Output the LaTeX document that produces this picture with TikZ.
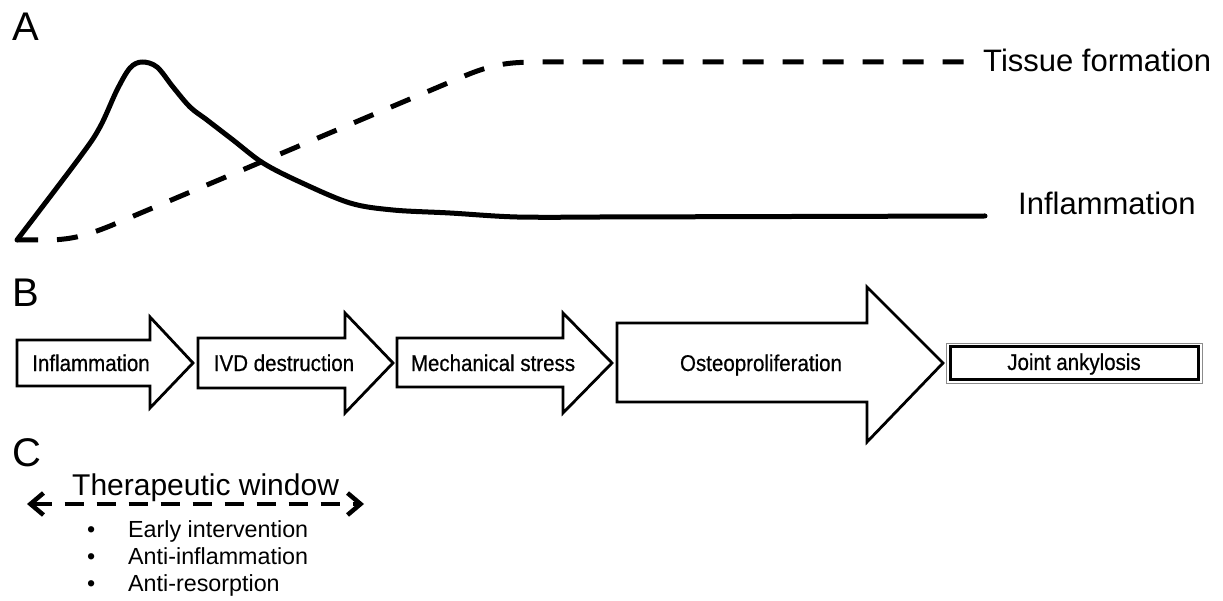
\documentclass[tikz,border=0pt]{standalone}
\usepackage{fontspec}
\setmainfont{Liberation Sans}
\newfontfamily\stagefont[FakeStretch=0.9, FakeBold=0.6]{Liberation Sans}
\usetikzlibrary{arrows.meta}

\begin{document}
\begin{tikzpicture}[x=1pt, y=-1pt,
		panel/.style={anchor=base west, inner sep=0pt, font=\fontsize{40}{48}\selectfont},
		curvelabel/.style={anchor=base west, inner sep=0pt, font=\fontsize{31}{37}\selectfont},
		stagearrow/.style={draw, fill=white, line width=2.8pt, line join=miter},
		stagetext/.style={anchor=base, inner sep=0pt, font=\stagefont\fontsize{22.8}{27}\selectfont},
		itemtext/.style={anchor=base west, inner sep=0pt, font=\fontsize{23.3}{28}\selectfont}]
	\useasboundingbox (0,0) rectangle (1223,601);
	
	\node[panel] (lblA) at (12,41) {A};
	\draw[line width=5pt, line cap=round, line join=round] plot[smooth, tension=0.55] coordinates {(17,240) (80,157) (100,127) (117,90) (130,68) (142,62) (157,67) (173,87) (190,107) (207,120) (233,140) (263,163) (300,182) (350,203) (393,210) (450,213) (517,217) (600,217)} -- (985,216);
	\draw[line width=5pt, dash pattern=on 21pt off 19pt] (17,240) -- (45,240) .. controls (70,240) and (85,236) .. (110,226) -- (462,77) .. controls (495,63) and (510,62) .. (545,62) -- (970,62);
	\node[curvelabel] (tissue) at (983,72) {Tissue formation};
	\node[curvelabel] (inflcurve) at (1018,215) {Inflammation};
	
	\node[panel] (lblB) at (12,307) {B};
	\draw[stagearrow] (17,340) -- (150,340) -- (150,317) -- (193,363) -- (150,408) -- (150,386) -- (17,386) -- cycle;
	\draw[stagearrow] (198,338) -- (345,338) -- (345,313) -- (393,363) -- (345,413) -- (345,388) -- (198,388) -- cycle;
	\draw[stagearrow] (397,338) -- (563,338) -- (563,313) -- (612,363) -- (563,413) -- (563,387) -- (397,387) -- cycle;
	\draw[stagearrow] (617,323) -- (867,323) -- (867,287) -- (943,363) -- (867,442) -- (867,402) -- (617,402) -- cycle;
	\node[stagetext] (inflam) at (91,371) {Inflammation};
	\node[stagetext] (ivd) at (284,371) {IVD destruction};
	\node[stagetext] (mech) at (493,371) {Mechanical stress};
	\node[stagetext] (osteo) at (761,371) {Osteoproliferation};
	\node[draw, line width=3pt, minimum width=248pt, minimum height=32pt, inner sep=0pt,
		text height=16.5pt, text depth=2.5pt, font=\stagefont\fontsize{22.8}{27}\selectfont] (ankyl) at (1074,363) {Joint ankylosis};
	\draw[black!45, line width=0.9pt] ([xshift=-2.5pt,yshift=2.5pt]ankyl.north west) rectangle ([xshift=2.5pt,yshift=-2.5pt]ankyl.south east);
	
	\node[panel] (lblC) at (12,466) {C};
	\node[curvelabel, font=\fontsize{30}{36}\selectfont] (window) at (72,495) {Therapeutic window};
	\coordinate (twl) at (27,504);
	\coordinate (twr) at (364,504);
	\draw[line width=4.5pt, dash pattern=on 19pt off 13pt, {Straight Barb[length=13pt,width=22pt]}-{Straight Barb[length=13pt,width=22pt]}] (twl) -- (twr);
	\node[itemtext] (early) at (87,537) {\makebox[41pt][l]{•}Early intervention};
	\node[itemtext] (antiinf) at (87,564) {\makebox[41pt][l]{•}Anti-inflammation};
	\node[itemtext] (antires) at (87,591) {\makebox[41pt][l]{•}Anti-resorption};
\end{tikzpicture}
\end{document}
